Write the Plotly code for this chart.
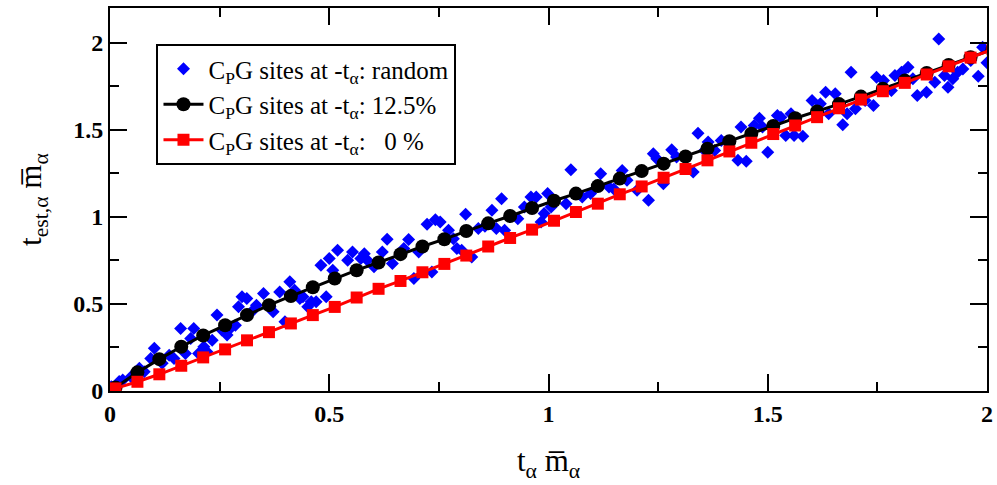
import plotly.graph_objects as go

# x positions of the line series (t_alpha * m_alpha)
x_line = [0.0125, 0.0625, 0.1125, 0.1625, 0.2125, 0.2625, 0.3125, 0.3625, 0.4125, 0.4625,
          0.5125, 0.5625, 0.6125, 0.6625, 0.7125, 0.7625, 0.8125, 0.8625, 0.9125, 0.9625,
          1.0125, 1.0625, 1.1125, 1.1625, 1.2125, 1.2625, 1.3125, 1.3625, 1.4125, 1.4625,
          1.5125, 1.5625, 1.6125, 1.6625, 1.7125, 1.7625, 1.8125, 1.8625, 1.9125, 1.9625,
          2.0125]

# CpG sites at -t_alpha: 12.5%
y_black = [0.020, 0.107, 0.183, 0.254, 0.319, 0.378, 0.436, 0.493, 0.545, 0.596,
           0.646, 0.694, 0.738, 0.786, 0.830, 0.872, 0.919, 0.963, 1.005, 1.051,
           1.093, 1.134, 1.177, 1.220, 1.263, 1.306, 1.347, 1.392, 1.435, 1.478,
           1.522, 1.567, 1.606, 1.648, 1.691, 1.736, 1.783, 1.827, 1.873, 1.917,
           1.962]

# CpG sites at -t_alpha: 0 %
y_red = [0.015, 0.053, 0.096, 0.145, 0.193, 0.239, 0.291, 0.338, 0.388, 0.436,
         0.483, 0.537, 0.587, 0.632, 0.682, 0.730, 0.778, 0.830, 0.879, 0.927,
         0.978, 1.028, 1.076, 1.130, 1.175, 1.225, 1.275, 1.325, 1.376, 1.426,
         1.476, 1.525, 1.573, 1.624, 1.674, 1.722, 1.770, 1.818, 1.865, 1.915,
         1.963]

# CpG sites at -t_alpha: random
x_blue = [0.003, 0.021, 0.029, 0.048, 0.067, 0.078, 0.093, 0.101, 0.119, 0.135,
          0.146, 0.161, 0.172, 0.184, 0.191, 0.202, 0.214, 0.221, 0.233, 0.244,
          0.255, 0.267, 0.274, 0.286, 0.293, 0.301, 0.312, 0.323, 0.334, 0.350,
          0.365, 0.372, 0.387, 0.399, 0.410, 0.421, 0.433, 0.440, 0.451, 0.459,
          0.470, 0.481, 0.493, 0.500, 0.508,
          0.519, 0.542, 0.553, 0.572, 0.580, 0.587, 0.602, 0.621, 0.632, 0.644,
          0.670, 0.681, 0.693, 0.704, 0.723, 0.734, 0.742, 0.753, 0.772, 0.783,
          0.791, 0.802, 0.811, 0.825, 0.840, 0.855, 0.871, 0.881, 0.893, 0.900,
          0.930, 0.945, 0.960, 0.972, 0.983, 0.990, 0.998,
          1.006, 1.040, 1.051, 1.077, 1.096, 1.119, 1.138, 1.149, 1.168, 1.179,
          1.202, 1.228, 1.239, 1.247, 1.262, 1.281, 1.292, 1.330, 1.341, 1.356,
          1.364, 1.379, 1.394, 1.432, 1.439, 1.451, 1.469, 1.481, 1.488, 1.500,
          1.522, 1.530, 1.541, 1.553, 1.560, 1.580, 1.601, 1.620, 1.632, 1.639,
          1.654, 1.671, 1.681, 1.690, 1.700, 1.722, 1.741, 1.748, 1.764, 1.782,
          1.790, 1.805, 1.820, 1.831, 1.841, 1.862, 1.881, 1.890, 1.903, 1.911,
          1.922, 1.933, 1.945, 1.963, 1.980, 1.990, 2.000]
y_blue = [0.025, 0.054, 0.063, 0.082, 0.130, 0.111, 0.187, 0.245, 0.159, 0.206,
          0.187, 0.359, 0.216, 0.302, 0.359, 0.216, 0.254, 0.226, 0.292, 0.436,
          0.350, 0.321, 0.359, 0.378, 0.484, 0.541, 0.531, 0.455, 0.493, 0.560,
          0.484, 0.455, 0.569, 0.398, 0.627, 0.579, 0.531, 0.541, 0.484, 0.512,
          0.512, 0.722, 0.541, 0.761, 0.694,
          0.809, 0.751, 0.799, 0.761, 0.789, 0.751, 0.713, 0.799, 0.872, 0.732,
          0.818, 0.870, 0.646, 0.799, 0.958, 0.684, 0.984, 0.971, 0.923, 0.875,
          0.818, 0.809, 1.015, 0.770, 0.933, 0.946, 1.038, 0.933, 1.105, 0.923,
          0.990, 1.057, 1.114, 1.114, 0.971, 1.019, 1.134,
          1.057, 1.076, 1.271, 1.114, 1.134, 1.248, 1.172, 1.160, 1.267, 1.210,
          1.153, 1.095, 1.363, 1.334, 1.191, 1.386, 1.344, 1.258, 1.481, 1.382,
          1.430, 1.382, 1.439, 1.325, 1.516, 1.319, 1.525, 1.567, 1.516, 1.372,
          1.583, 1.573, 1.468, 1.592, 1.468, 1.464, 1.669, 1.650, 1.716, 1.592,
          1.707, 1.529, 1.592, 1.831, 1.621, 1.669, 1.640, 1.802, 1.783, 1.726,
          1.812, 1.831, 1.860, 1.793, 1.697, 1.716, 1.774, 2.022, 1.812, 1.745,
          1.793, 1.831, 1.850, 1.898, 1.808, 1.974, 1.885]

FONT = "Liberation Serif"

fig = go.Figure()
fig.add_trace(go.Scatter(
    x=x_blue, y=y_blue, mode="markers",
    name="C<sub>P</sub>G sites at -t<sub>α</sub>: random",
    marker=dict(symbol="diamond", size=10, color="#0000ff", line=dict(width=0)),
))
fig.add_trace(go.Scatter(
    x=x_line, y=y_black, mode="lines+markers",
    name="C<sub>P</sub>G sites at -t<sub>α</sub>: 12.5%",
    line=dict(color="black", width=3),
    marker=dict(symbol="circle", size=14, color="black"),
))
fig.add_trace(go.Scatter(
    x=x_line, y=y_red, mode="lines+markers",
    name="C<sub>P</sub>G sites at -t<sub>α</sub>:\u00a0\u00a0\u00a00 %",
    line=dict(color="#ff0000", width=3),
    marker=dict(symbol="square", size=12, color="#ff0000"),
))

axis_common = dict(
    showgrid=False, zeroline=False,
    showline=True, linecolor="black", linewidth=2, mirror="ticks",
    ticks="inside", ticklen=17, tickwidth=2, tickcolor="black",
    tickfont=dict(family=FONT, size=24, color="black", weight="bold"),
    minor=dict(ticks="inside", ticklen=9, tickwidth=1.5, tickcolor="black", dtick=0.25),
    dtick=0.5,
)

fig.update_layout(
    width=997, height=485,
    margin=dict(l=110, r=4, t=8, b=94),
    plot_bgcolor="white", paper_bgcolor="white",
    font=dict(family=FONT, size=24, color="black"),
    xaxis=dict(range=[0, 2], title=dict(text="t<sub>α</sub> m\u0305<sub>α</sub>",
               font=dict(family=FONT, size=31), standoff=24), tick0=0, **axis_common),
    yaxis=dict(range=[0, 2.2], title=dict(text="t<sub>est,α</sub> m\u0305<sub>α</sub>",
               font=dict(family=FONT, size=31), standoff=22), tick0=0, **axis_common),
    legend=dict(x=0.053, y=0.906, xanchor="left", yanchor="top",
                bordercolor="black", borderwidth=2, bgcolor="white",
                font=dict(family=FONT, size=25, color="black"),
                tracegroupgap=0, itemwidth=40),
    showlegend=True,
)

fig.write_html("out.html")
